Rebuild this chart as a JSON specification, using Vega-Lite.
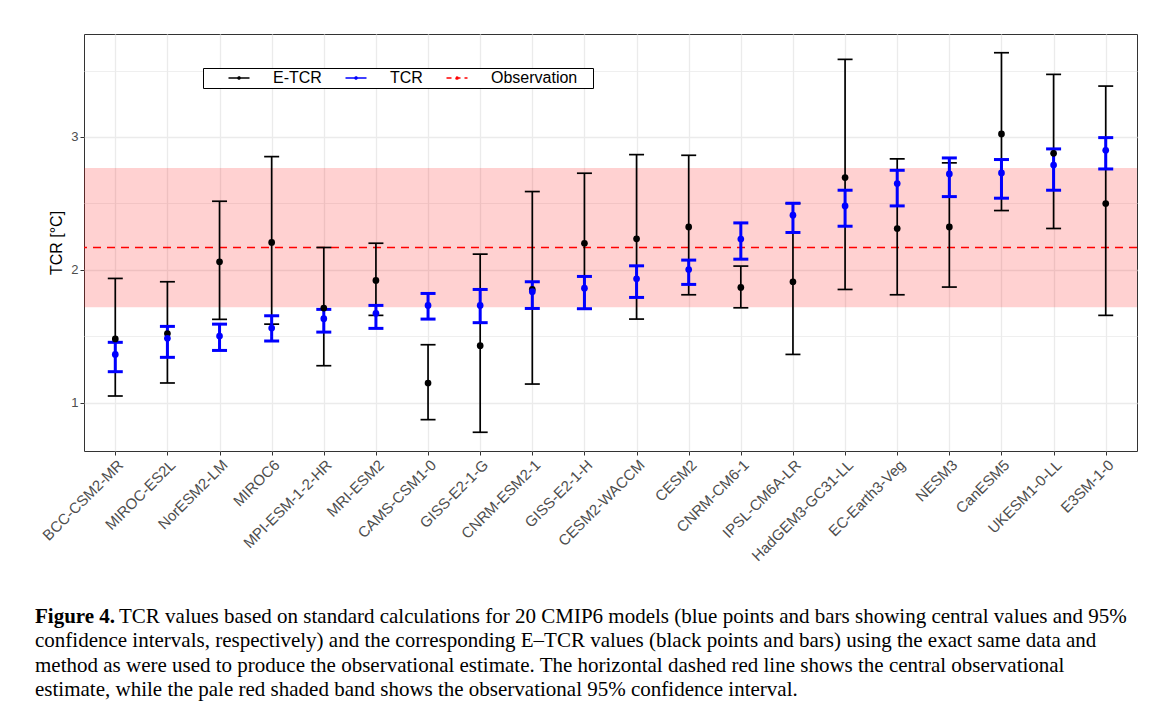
{
  "$schema": "https://vega.github.io/schema/vega-lite/v6.json",
  "width": 1053,
  "height": 417,
  "autosize": {"type": "none"},
  "padding": {"left": 84, "top": 34, "right": 31, "bottom": 260},
  "background": "white",
  "config": {
    "font": "Liberation Sans",
    "view": {"stroke": "#333333", "strokeWidth": 1}
  },
  "title": {
    "text": "Figure 4.",
    "subtitle": [
      "\u200b\u00a0\u00a0\u00a0\u00a0\u00a0\u00a0\u00a0\u00a0\u00a0\u00a0\u00a0\u00a0\u00a0\u00a0\u00a0\u00a0TCR values based on standard calculations for 20 CMIP6 models (blue points and bars showing central values and 95%",
      "confidence intervals, respectively) and the corresponding E\u2013TCR values (black points and bars) using the exact same data and",
      "method as were used to produce the observational estimate. The horizontal dashed red line shows the central observational",
      "estimate, while the pale red shaded band shows the observational 95% confidence interval."
    ],
    "orient": "bottom",
    "anchor": "start",
    "frame": "group",
    "dx": -49,
    "offset": 42,
    "font": "Liberation Serif",
    "fontSize": 21,
    "fontWeight": "bold",
    "color": "black",
    "subtitleFont": "Liberation Serif",
    "subtitleFontSize": 21,
    "subtitleFontWeight": "normal",
    "subtitleColor": "black",
    "subtitleLineHeight": 24.5,
    "subtitlePadding": -21
  },
  "datasets": {
    "est": [
      {"model": "BCC-CSM2-MR", "type": "E-TCR", "val": 1.48, "lo": 1.05, "hi": 1.935},
      {"model": "MIROC-ES2L", "type": "E-TCR", "val": 1.52, "lo": 1.148, "hi": 1.91},
      {"model": "NorESM2-LM", "type": "E-TCR", "val": 2.06, "lo": 1.627, "hi": 2.516},
      {"model": "MIROC6", "type": "E-TCR", "val": 2.206, "lo": 1.591, "hi": 2.852},
      {"model": "MPI-ESM-1-2-HR", "type": "E-TCR", "val": 1.712, "lo": 1.278, "hi": 2.168},
      {"model": "MRI-ESM2", "type": "E-TCR", "val": 1.92, "lo": 1.657, "hi": 2.2},
      {"model": "CAMS-CSM1-0", "type": "E-TCR", "val": 1.148, "lo": 0.872, "hi": 1.436},
      {"model": "GISS-E2-1-G", "type": "E-TCR", "val": 1.429, "lo": 0.777, "hi": 2.118},
      {"model": "CNRM-ESM2-1", "type": "E-TCR", "val": 1.852, "lo": 1.14, "hi": 2.589},
      {"model": "GISS-E2-1-H", "type": "E-TCR", "val": 2.2, "lo": 1.704, "hi": 2.727},
      {"model": "CESM2-WACCM", "type": "E-TCR", "val": 2.233, "lo": 1.629, "hi": 2.867},
      {"model": "CESM2", "type": "E-TCR", "val": 2.323, "lo": 1.812, "hi": 2.862},
      {"model": "CNRM-CM6-1", "type": "E-TCR", "val": 1.867, "lo": 1.714, "hi": 2.028},
      {"model": "IPSL-CM6A-LR", "type": "E-TCR", "val": 1.91, "lo": 1.363, "hi": 2.5},
      {"model": "HadGEM3-GC31-LL", "type": "E-TCR", "val": 2.694, "lo": 1.852, "hi": 3.584},
      {"model": "EC-Earth3-Veg", "type": "E-TCR", "val": 2.311, "lo": 1.812, "hi": 2.835},
      {"model": "NESM3", "type": "E-TCR", "val": 2.323, "lo": 1.87, "hi": 2.805},
      {"model": "CanESM5", "type": "E-TCR", "val": 3.023, "lo": 2.446, "hi": 3.634},
      {"model": "UKESM1-0-LL", "type": "E-TCR", "val": 2.877, "lo": 2.311, "hi": 3.471},
      {"model": "E3SM-1-0", "type": "E-TCR", "val": 2.499, "lo": 1.657, "hi": 3.383},
      {"model": "BCC-CSM2-MR", "type": "TCR", "val": 1.363, "lo": 1.233, "hi": 1.454},
      {"model": "MIROC-ES2L", "type": "TCR", "val": 1.484, "lo": 1.341, "hi": 1.574},
      {"model": "NorESM2-LM", "type": "TCR", "val": 1.501, "lo": 1.393, "hi": 1.591},
      {"model": "MIROC6", "type": "TCR", "val": 1.561, "lo": 1.464, "hi": 1.654},
      {"model": "MPI-ESM-1-2-HR", "type": "TCR", "val": 1.632, "lo": 1.531, "hi": 1.702},
      {"model": "MRI-ESM2", "type": "TCR", "val": 1.672, "lo": 1.559, "hi": 1.732},
      {"model": "CAMS-CSM1-0", "type": "TCR", "val": 1.732, "lo": 1.629, "hi": 1.822},
      {"model": "GISS-E2-1-G", "type": "TCR", "val": 1.732, "lo": 1.602, "hi": 1.852},
      {"model": "CNRM-ESM2-1", "type": "TCR", "val": 1.835, "lo": 1.709, "hi": 1.91},
      {"model": "GISS-E2-1-H", "type": "TCR", "val": 1.862, "lo": 1.707, "hi": 1.95},
      {"model": "CESM2-WACCM", "type": "TCR", "val": 1.932, "lo": 1.792, "hi": 2.03},
      {"model": "CESM2", "type": "TCR", "val": 2.002, "lo": 1.89, "hi": 2.073},
      {"model": "CNRM-CM6-1", "type": "TCR", "val": 2.231, "lo": 2.08, "hi": 2.353},
      {"model": "IPSL-CM6A-LR", "type": "TCR", "val": 2.411, "lo": 2.281, "hi": 2.501},
      {"model": "HadGEM3-GC31-LL", "type": "TCR", "val": 2.481, "lo": 2.328, "hi": 2.599},
      {"model": "EC-Earth3-Veg", "type": "TCR", "val": 2.649, "lo": 2.481, "hi": 2.749},
      {"model": "NESM3", "type": "TCR", "val": 2.722, "lo": 2.551, "hi": 2.842},
      {"model": "CanESM5", "type": "TCR", "val": 2.729, "lo": 2.539, "hi": 2.83},
      {"model": "UKESM1-0-LL", "type": "TCR", "val": 2.789, "lo": 2.599, "hi": 2.91},
      {"model": "E3SM-1-0", "type": "TCR", "val": 2.9, "lo": 2.759, "hi": 2.995}
    ],
    "obs": [{"lo": 1.719, "mid": 2.168, "hi": 2.767}]
  },
  "resolve": {"axis": {"y": "independent"}},
  "layer": [
    {
      "data": {"name": "obs"},
      "mark": {"type": "rect", "color": "#FF0000", "opacity": 0.18},
      "encoding": {
        "y": {"field": "lo", "type": "quantitative", "scale": {"domain": [0.636, 3.775], "nice": false, "zero": false},
              "axis": {"orient": "right", "values": [0.5, 1.5, 2.5, 3.5], "grid": true, "gridColor": "#EBEBEB", "gridWidth": 0.8, "labels": false, "ticks": false, "domain": false, "title": null}},
        "y2": {"field": "hi"}
      }
    },
    {
      "data": {"name": "obs"},
      "mark": {"type": "rule", "color": "#FF0000", "strokeWidth": 1.5, "strokeDash": [8, 6]},
      "encoding": {
        "y": {"field": "mid", "type": "quantitative", "scale": {"domain": [0.636, 3.775], "nice": false, "zero": false}, "axis": null}
      }
    },
    {
      "data": {"name": "est"},
      "transform": [{"filter": "datum.type === 'E-TCR'"}],
      "mark": {"type": "rule", "strokeWidth": 1.7, "opacity": 1},
      "encoding": {
        "x": {"field": "model", "type": "nominal", "sort": ["BCC-CSM2-MR","MIROC-ES2L","NorESM2-LM","MIROC6","MPI-ESM-1-2-HR","MRI-ESM2","CAMS-CSM1-0","GISS-E2-1-G","CNRM-ESM2-1","GISS-E2-1-H","CESM2-WACCM","CESM2","CNRM-CM6-1","IPSL-CM6A-LR","HadGEM3-GC31-LL","EC-Earth3-Veg","NESM3","CanESM5","UKESM1-0-LL","E3SM-1-0"],
              "scale": {"type": "point", "padding": 0.6},
              "axis": {"title": null, "labelAngle": -45, "labelAlign": "right", "labelBaseline": "top", "labelFontSize": 15, "labelColor": "#4D4D4D", "labelPadding": 2, "tickColor": "#333333", "tickSize": 4, "domain": false, "grid": true, "gridColor": "#EBEBEB", "gridWidth": 1.3}},
        "y": {"field": "lo", "type": "quantitative", "scale": {"domain": [0.636, 3.775], "nice": false, "zero": false},
              "axis": {"orient": "left", "values": [1, 2, 3], "title": "TCR [\u00b0C]", "titleFontSize": 16, "titleFontWeight": "normal", "titleColor": "black", "titlePadding": 6, "labelFontSize": 13, "labelColor": "#4D4D4D", "labelPadding": 2, "tickColor": "#333333", "tickSize": 4, "domain": false, "grid": true, "gridColor": "#EBEBEB", "gridWidth": 1.3}},
        "y2": {"field": "hi"},
        "strokeDash": {"field": "type", "type": "nominal",
                       "scale": {"domain": ["E-TCR", "TCR", "Observation"], "range": [[1, 0], [1, 0], [5, 4]]},
                       "legend": {"orient": "none", "legendX": 119, "legendY": 34, "direction": "horizontal", "title": null,
                             "strokeColor": "#000000", "fillColor": "white", "padding": 2,
                             "labelFontSize": 16, "labelColor": "black", "labelFont": "Liberation Sans",
                             "labelExpr": "datum.label === 'Observation' ? 'Observation\u00a0\u00a0\u00a0\u200b' : datum.label",
                             "symbolType": "M-1.5,0H1.5M-0.15,0A0.15,0.15,0,1,0,0.15,0A0.15,0.15,0,1,0,-0.15,0", "symbolSize": 196, "symbolStrokeWidth": 1.6,
                             "labelOffset": 26, "columnPadding": 0, "symbolOffset": 26}},
        "color": {"field": "type", "type": "nominal",
                  "scale": {"domain": ["E-TCR", "TCR", "Observation"], "range": ["#000000", "#0000FF", "#FF0000"]},
                  "legend": {"orient": "none", "legendX": 119, "legendY": 34, "direction": "horizontal", "title": null,
                             "strokeColor": "#000000", "fillColor": "white", "padding": 2,
                             "labelFontSize": 16, "labelColor": "black", "labelFont": "Liberation Sans",
                             "labelExpr": "datum.label === 'Observation' ? 'Observation\u00a0\u00a0\u00a0\u200b' : datum.label",
                             "symbolType": "M-1.5,0H1.5M-0.15,0A0.15,0.15,0,1,0,0.15,0A0.15,0.15,0,1,0,-0.15,0", "symbolSize": 196, "symbolStrokeWidth": 1.6,
                             "labelOffset": 26, "columnPadding": 0, "symbolOffset": 26}}
      }
    },
    {
      "data": {"name": "est"},
      "transform": [{"filter": "datum.type === 'E-TCR'"}, {"fold": ["lo", "hi"], "as": ["end", "bound"]}],
      "mark": {"type": "tick", "orient": "horizontal", "size": 15, "thickness": 1.7, "opacity": 1},
      "encoding": {
        "x": {"field": "model", "type": "nominal", "sort": ["BCC-CSM2-MR","MIROC-ES2L","NorESM2-LM","MIROC6","MPI-ESM-1-2-HR","MRI-ESM2","CAMS-CSM1-0","GISS-E2-1-G","CNRM-ESM2-1","GISS-E2-1-H","CESM2-WACCM","CESM2","CNRM-CM6-1","IPSL-CM6A-LR","HadGEM3-GC31-LL","EC-Earth3-Veg","NESM3","CanESM5","UKESM1-0-LL","E3SM-1-0"], "scale": {"type": "point", "padding": 0.6}},
        "y": {"field": "bound", "type": "quantitative", "scale": {"domain": [0.636, 3.775], "nice": false, "zero": false}, "axis": null},
        "color": {"field": "type", "type": "nominal"}
      }
    },
    {
      "data": {"name": "est"},
      "transform": [{"filter": "datum.type === 'TCR'"}],
      "mark": {"type": "rule", "strokeWidth": 3, "opacity": 1},
      "encoding": {
        "x": {"field": "model", "type": "nominal", "sort": ["BCC-CSM2-MR","MIROC-ES2L","NorESM2-LM","MIROC6","MPI-ESM-1-2-HR","MRI-ESM2","CAMS-CSM1-0","GISS-E2-1-G","CNRM-ESM2-1","GISS-E2-1-H","CESM2-WACCM","CESM2","CNRM-CM6-1","IPSL-CM6A-LR","HadGEM3-GC31-LL","EC-Earth3-Veg","NESM3","CanESM5","UKESM1-0-LL","E3SM-1-0"], "scale": {"type": "point", "padding": 0.6}},
        "y": {"field": "lo", "type": "quantitative", "scale": {"domain": [0.636, 3.775], "nice": false, "zero": false}, "axis": null},
        "y2": {"field": "hi"},
        "color": {"field": "type", "type": "nominal"}
      }
    },
    {
      "data": {"name": "est"},
      "transform": [{"filter": "datum.type === 'TCR'"}, {"fold": ["lo", "hi"], "as": ["end", "bound"]}],
      "mark": {"type": "tick", "orient": "horizontal", "size": 15, "thickness": 3, "opacity": 1},
      "encoding": {
        "x": {"field": "model", "type": "nominal", "sort": ["BCC-CSM2-MR","MIROC-ES2L","NorESM2-LM","MIROC6","MPI-ESM-1-2-HR","MRI-ESM2","CAMS-CSM1-0","GISS-E2-1-G","CNRM-ESM2-1","GISS-E2-1-H","CESM2-WACCM","CESM2","CNRM-CM6-1","IPSL-CM6A-LR","HadGEM3-GC31-LL","EC-Earth3-Veg","NESM3","CanESM5","UKESM1-0-LL","E3SM-1-0"], "scale": {"type": "point", "padding": 0.6}},
        "y": {"field": "bound", "type": "quantitative", "scale": {"domain": [0.636, 3.775], "nice": false, "zero": false}, "axis": null},
        "color": {"field": "type", "type": "nominal"}
      }
    },
    {
      "data": {"name": "est"},
      "transform": [{"filter": "datum.type === 'E-TCR'"}],
      "mark": {"type": "point", "filled": true, "size": 45, "opacity": 1},
      "encoding": {
        "x": {"field": "model", "type": "nominal", "sort": ["BCC-CSM2-MR","MIROC-ES2L","NorESM2-LM","MIROC6","MPI-ESM-1-2-HR","MRI-ESM2","CAMS-CSM1-0","GISS-E2-1-G","CNRM-ESM2-1","GISS-E2-1-H","CESM2-WACCM","CESM2","CNRM-CM6-1","IPSL-CM6A-LR","HadGEM3-GC31-LL","EC-Earth3-Veg","NESM3","CanESM5","UKESM1-0-LL","E3SM-1-0"], "scale": {"type": "point", "padding": 0.6}},
        "y": {"field": "val", "type": "quantitative", "scale": {"domain": [0.636, 3.775], "nice": false, "zero": false}, "axis": null},
        "color": {"field": "type", "type": "nominal"}
      }
    },
    {
      "data": {"name": "est"},
      "transform": [{"filter": "datum.type === 'TCR'"}],
      "mark": {"type": "point", "filled": true, "size": 45, "opacity": 1},
      "encoding": {
        "x": {"field": "model", "type": "nominal", "sort": ["BCC-CSM2-MR","MIROC-ES2L","NorESM2-LM","MIROC6","MPI-ESM-1-2-HR","MRI-ESM2","CAMS-CSM1-0","GISS-E2-1-G","CNRM-ESM2-1","GISS-E2-1-H","CESM2-WACCM","CESM2","CNRM-CM6-1","IPSL-CM6A-LR","HadGEM3-GC31-LL","EC-Earth3-Veg","NESM3","CanESM5","UKESM1-0-LL","E3SM-1-0"], "scale": {"type": "point", "padding": 0.6}},
        "y": {"field": "val", "type": "quantitative", "scale": {"domain": [0.636, 3.775], "nice": false, "zero": false}, "axis": null},
        "color": {"field": "type", "type": "nominal"}
      }
    }
  ]
}
